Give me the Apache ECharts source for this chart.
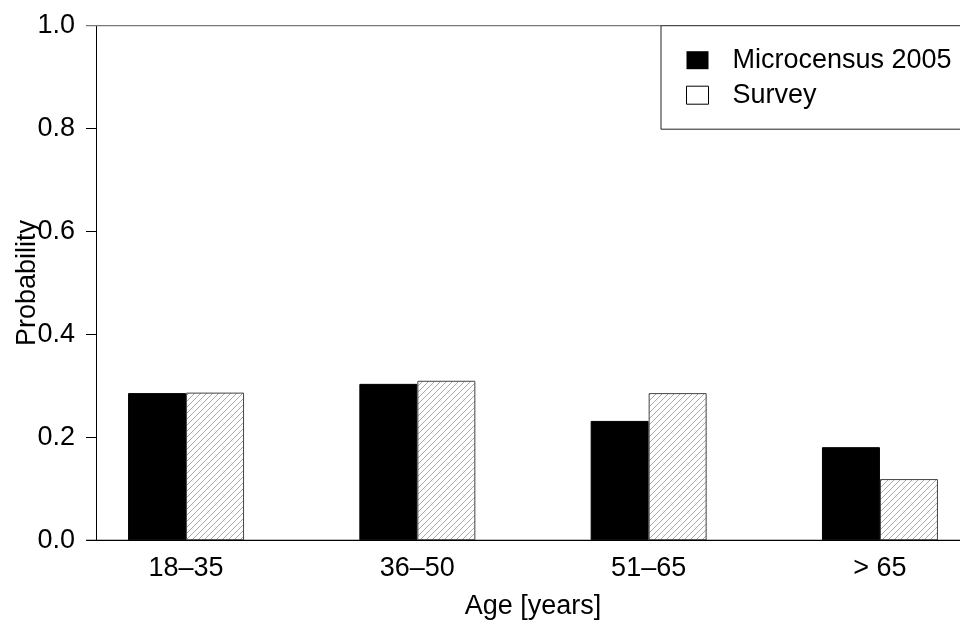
<!DOCTYPE html>
<html>
<head>
<meta charset="utf-8">
<script src="https://cdn.jsdelivr.net/npm/echarts@6/dist/echarts.min.js"></script>
<style>html,body{margin:0;padding:0;background:#fff}#c{width:960px;height:626px}</style>
</head>
<body>
<div id="c"></div>
<script>
const categories = ['18–35', '36–50', '51–65', '> 65'];
const microcensus = [0.286, 0.304, 0.232, 0.181];
const survey = [0.287, 0.310, 0.286, 0.119];
const seriesNames = ['Microcensus 2005', 'Survey'];
const yMin = 0, yMax = 1, yStep = 0.2;

const FONT = '"Liberation Sans", Arial, Helvetica, sans-serif';

function hatch() {
  const c = document.createElement('canvas');
  c.width = 6; c.height = 6;
  const g = c.getContext('2d');
  g.fillStyle = '#fff'; g.fillRect(0, 0, 6, 6);
  g.strokeStyle = '#a8a8a8'; g.lineWidth = 1;
  g.beginPath();
  g.moveTo(0, 6); g.lineTo(6, 0);
  g.moveTo(-1, 1); g.lineTo(1, -1);
  g.moveTo(5, 7); g.lineTo(7, 5);
  g.stroke();
  return c;
}

const chart = echarts.init(document.getElementById('c'), null, {renderer: 'canvas'});
chart.setOption({
  animation: false,
  backgroundColor: '#fff',
  textStyle: {fontFamily: FONT},
  grid: {left: 70.4, top: 25.7, width: 925.2, height: 514.6, containLabel: false, outerBoundsMode: 'none'},
  legend: {
    orient: 'vertical',
    left: 661, top: 25.7,
    padding: [21, 40, 20.5, 25],
    borderColor: '#222', borderWidth: 1,
    backgroundColor: '#fff',
    itemWidth: 22, itemHeight: 18, itemGap: 8,
    icon: 'rect',
    textStyle: {fontSize: 27, color: '#000', fontFamily: FONT, padding: [0, 0, 0, 19]},
    data: [
      {name: seriesNames[0], itemStyle: {color: '#000', borderColor: '#000', borderWidth: 0}},
      {name: seriesNames[1], itemStyle: {color: '#fff', borderColor: '#000', borderWidth: 1}}
    ]
  },
  xAxis: {
    type: 'category',
    data: categories,
    axisLine: {show: false},
    axisTick: {show: false},
    axisLabel: {fontSize: 27, color: '#000', margin: 15, fontFamily: FONT},
    name: 'Age [years]',
    nameLocation: 'middle',
    nameGap: 53,
    nameMoveOverlap: false,
    nameTextStyle: {fontSize: 27, color: '#000', fontFamily: FONT}
  },
  yAxis: {
    type: 'value',
    min: yMin, max: yMax, interval: yStep,
    offset: -25.6,
    axisLine: {show: true, lineStyle: {color: '#000', width: 1}},
    axisTick: {show: true, inside: false, length: 10, lineStyle: {color: '#000'}},
    splitLine: {show: false},
    axisLabel: {fontSize: 27, color: '#000', margin: 21, fontFamily: FONT, formatter: v => v.toFixed(1)},
    name: 'Probability',
    nameLocation: 'middle',
    nameRotate: 90,
    nameGap: 55,
    nameMoveOverlap: false,
    nameTextStyle: {fontSize: 27, color: '#000', fontFamily: FONT}
  },
  series: [
    {
      name: seriesNames[0], type: 'bar', data: microcensus,
      barWidth: 58, barGap: '0%',
      itemStyle: {color: '#000', borderColor: '#000', borderWidth: 1}
    },
    {
      name: seriesNames[1], type: 'bar', data: survey,
      barWidth: 58, barGap: '0%',
      itemStyle: {color: {image: hatch(), repeat: 'repeat'}, borderColor: '#444', borderWidth: 1}
    }
  ]
});

const y0 = chart.convertToPixel({yAxisIndex: 0}, yMin);
const y1 = chart.convertToPixel({yAxisIndex: 0}, yMax);
chart.setOption({
  graphic: [
    {type: 'line', z: 50, shape: {x1: 86, y1: y0, x2: 960, y2: y0}, style: {stroke: '#000', lineWidth: 1.2}},
    {type: 'line', z: 1, shape: {x1: 86, y1: y1, x2: 661, y2: y1}, style: {stroke: '#777', lineWidth: 1.2}}
  ]
});
</script>
</body>
</html>
